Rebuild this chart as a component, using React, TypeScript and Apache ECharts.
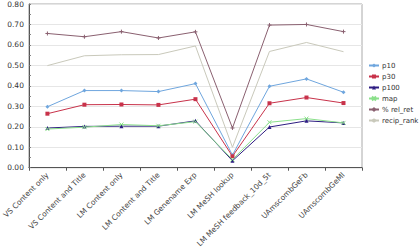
import React, { useEffect, useRef } from "react";
import * as echarts from "echarts";

const categories = [
  "VS Content only",
  "VS Content and Title",
  "LM Content only",
  "LM Content and Title",
  "LM Genename Exp",
  "LM MeSH lookup",
  "LM MeSH feedback_10d_5t",
  "UAmscombGeFb",
  "UAmscombGeMl",
];
const p10 = [0.298, 0.377, 0.377, 0.372, 0.411, 0.062, 0.398, 0.434, 0.369];
const p30 = [0.264, 0.308, 0.309, 0.307, 0.335, 0.056, 0.315, 0.343, 0.316];
const p100 = [0.194, 0.202, 0.203, 0.203, 0.229, 0.034, 0.199, 0.229, 0.219];
const map = [0.189, 0.198, 0.211, 0.205, 0.225, 0.04, 0.222, 0.24, 0.219];
const relRet = [0.656, 0.64, 0.665, 0.634, 0.664, 0.194, 0.697, 0.7, 0.665];
const recipRank = [0.499, 0.547, 0.552, 0.553, 0.595, 0.1, 0.568, 0.612, 0.567];
const yTicks = { min: 0, max: 0.8, interval: 0.1 };

const seriesDefs = [
  { name: "p10", data: p10, color: "#6fa6de", symbol: "diamond", size: 4, stroke: false },
  { name: "p30", data: p30, color: "#c8324a", symbol: "rect", size: 4, stroke: false },
  { name: "p100", data: p100, color: "#2e1d82", symbol: "triangle", size: 4, stroke: false },
  { name: "map", data: map, color: "#8be08b", symbol: "path://M0,0L10,10M10,0L0,10", size: 4, stroke: true },
  { name: "% rel_ret", data: relRet, color: "#8a6070", symbol: "path://M5,0L5,10M0,5L10,5", size: 4, stroke: true },
  { name: "recip_rank", data: recipRank, color: "#c9c9bb", symbol: "none", size: 0, stroke: false },
];

export default function App() {
  const ref = useRef<HTMLDivElement>(null);
  useEffect(() => {
    const chart = echarts.init(ref.current!, undefined, { renderer: "svg" });
    chart.setOption({
      animation: false,
      textStyle: { fontFamily: "DejaVu Sans" },
      grid: { left: 25, right: 58, top: 3, bottom: 75, show: true, borderColor: "#aaaaaa", borderWidth: 1 },
      legend: {
        orient: "vertical",
        left: 363,
        top: 57,
        itemWidth: 10,
        itemHeight: 5,
        itemGap: 4,
        textStyle: { fontSize: 7, color: "#333", fontFamily: "DejaVu Sans", padding: [0, 0, 0, -2] },
        data: seriesDefs.map((s) => s.name),
      },
      xAxis: {
        type: "category",
        data: categories,
        boundaryGap: true,
        axisLine: { lineStyle: { color: "#555", width: 1 } },
        axisTick: { show: true, length: 3, lineStyle: { color: "#555" } },
        axisLabel: { rotate: 45, fontSize: 7.5, color: "#444", margin: 6, interval: 0 },
      },
      yAxis: {
        type: "value",
        min: yTicks.min,
        max: yTicks.max,
        interval: yTicks.interval,
        axisLine: { show: true, lineStyle: { color: "#555", width: 1 } },
        axisTick: { show: true, inside: true, length: 2, lineStyle: { color: "#777" } },
        minorTick: { show: true, splitNumber: 2, length: 2, lineStyle: { color: "#777" } },
        splitLine: { lineStyle: { color: "#e6e6e6", width: 1 } },
        axisLabel: { fontSize: 7.5, color: "#333", margin: 5, formatter: (v: number) => v.toFixed(2) },
      },
      series: seriesDefs.map((s) => ({
        name: s.name,
        type: "line",
        data: s.data,
        symbol: s.symbol,
        symbolSize: s.size,
        showSymbol: s.symbol !== "none",
        lineStyle: { color: s.color, width: 1 },
        itemStyle: s.stroke
          ? { color: "transparent", borderColor: s.color, borderWidth: 1 }
          : { color: s.color, borderWidth: 0 },
        color: s.color,
        emphasis: { disabled: true },
      })),
    });
    return () => chart.dispose();
  }, []);
  return (
    <div
      ref={ref}
      style={{ position: "absolute", left: 0, top: 0, width: 420, height: 250 }}
    />
  );
}
